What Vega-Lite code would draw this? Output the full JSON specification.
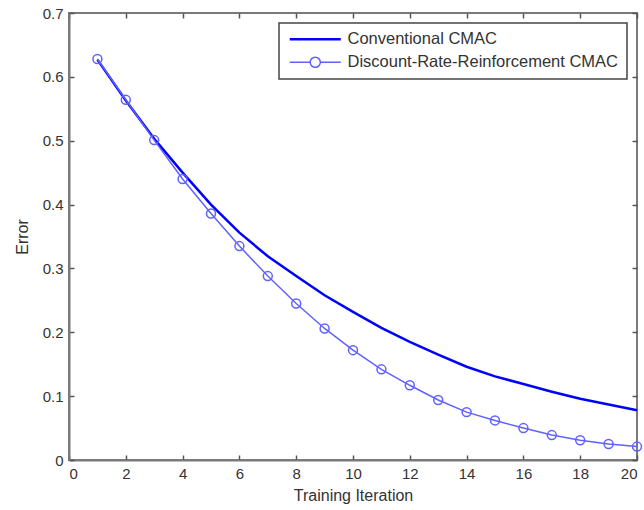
{
  "$schema": "https://vega.github.io/schema/vega-lite/v6.json",
  "width": 568,
  "height": 447,
  "autosize": {"type": "none"},
  "padding": {"left": 69, "top": 13, "right": 7, "bottom": 50},
  "background": "white",
  "config": {
    "view": {"stroke": "#7a7a7a", "strokeWidth": 2},
    "font": "Liberation Sans",
    "axis": {
      "grid": false,
      "domainColor": "#7a7a7a",
      "domainWidth": 2,
      "tickColor": "#555555",
      "tickWidth": 1.5,
      "tickSize": -5,
      "labelFont": "Liberation Sans",
      "labelFontSize": 15,
      "labelColor": "#333333",
      "titleFont": "Liberation Sans",
      "titleFontSize": 16,
      "titleFontWeight": "normal",
      "titleColor": "#333333"
    }
  },
  "data": {
    "values": [
      {"series": "Conventional CMAC", "iteration": 1, "error": 0.627},
      {"series": "Conventional CMAC", "iteration": 2, "error": 0.563},
      {"series": "Conventional CMAC", "iteration": 3, "error": 0.503},
      {"series": "Conventional CMAC", "iteration": 4, "error": 0.450},
      {"series": "Conventional CMAC", "iteration": 5, "error": 0.400},
      {"series": "Conventional CMAC", "iteration": 6, "error": 0.356},
      {"series": "Conventional CMAC", "iteration": 7, "error": 0.319},
      {"series": "Conventional CMAC", "iteration": 8, "error": 0.288},
      {"series": "Conventional CMAC", "iteration": 9, "error": 0.258},
      {"series": "Conventional CMAC", "iteration": 10, "error": 0.232},
      {"series": "Conventional CMAC", "iteration": 11, "error": 0.207},
      {"series": "Conventional CMAC", "iteration": 12, "error": 0.185},
      {"series": "Conventional CMAC", "iteration": 13, "error": 0.165},
      {"series": "Conventional CMAC", "iteration": 14, "error": 0.146},
      {"series": "Conventional CMAC", "iteration": 15, "error": 0.131},
      {"series": "Conventional CMAC", "iteration": 16, "error": 0.119},
      {"series": "Conventional CMAC", "iteration": 17, "error": 0.107},
      {"series": "Conventional CMAC", "iteration": 18, "error": 0.096},
      {"series": "Conventional CMAC", "iteration": 19, "error": 0.087},
      {"series": "Conventional CMAC", "iteration": 20, "error": 0.078},
      {"series": "Discount-Rate-Reinforcement CMAC", "iteration": 1, "error": 0.628},
      {"series": "Discount-Rate-Reinforcement CMAC", "iteration": 2, "error": 0.564},
      {"series": "Discount-Rate-Reinforcement CMAC", "iteration": 3, "error": 0.501},
      {"series": "Discount-Rate-Reinforcement CMAC", "iteration": 4, "error": 0.440},
      {"series": "Discount-Rate-Reinforcement CMAC", "iteration": 5, "error": 0.386},
      {"series": "Discount-Rate-Reinforcement CMAC", "iteration": 6, "error": 0.335},
      {"series": "Discount-Rate-Reinforcement CMAC", "iteration": 7, "error": 0.288},
      {"series": "Discount-Rate-Reinforcement CMAC", "iteration": 8, "error": 0.245},
      {"series": "Discount-Rate-Reinforcement CMAC", "iteration": 9, "error": 0.206},
      {"series": "Discount-Rate-Reinforcement CMAC", "iteration": 10, "error": 0.172},
      {"series": "Discount-Rate-Reinforcement CMAC", "iteration": 11, "error": 0.142},
      {"series": "Discount-Rate-Reinforcement CMAC", "iteration": 12, "error": 0.117},
      {"series": "Discount-Rate-Reinforcement CMAC", "iteration": 13, "error": 0.094},
      {"series": "Discount-Rate-Reinforcement CMAC", "iteration": 14, "error": 0.075},
      {"series": "Discount-Rate-Reinforcement CMAC", "iteration": 15, "error": 0.062},
      {"series": "Discount-Rate-Reinforcement CMAC", "iteration": 16, "error": 0.050},
      {"series": "Discount-Rate-Reinforcement CMAC", "iteration": 17, "error": 0.039},
      {"series": "Discount-Rate-Reinforcement CMAC", "iteration": 18, "error": 0.031},
      {"series": "Discount-Rate-Reinforcement CMAC", "iteration": 19, "error": 0.025},
      {"series": "Discount-Rate-Reinforcement CMAC", "iteration": 20, "error": 0.021}
    ]
  },
  "layer": [
    {
      "transform": [{"filter": "datum.series === 'Conventional CMAC'"}],
      "mark": {"type": "line", "strokeWidth": 2.5},
      "encoding": {
        "x": {
          "field": "iteration", "type": "quantitative",
          "scale": {"domain": [0, 20], "nice": false},
          "axis": {"values": [0, 2, 4, 6, 8, 10, 12, 14, 16, 18, 20], "title": "Training Iteration", "labelPadding": 11, "titlePadding": 6}
        },
        "y": {
          "field": "error", "type": "quantitative",
          "scale": {"domain": [0, 0.7], "nice": false, "zero": true},
          "axis": {"values": [0, 0.1, 0.2, 0.3, 0.4, 0.5, 0.6, 0.7], "format": "~g", "title": "Error", "labelPadding": 11, "titlePadding": 12}
        },
        "color": {
          "field": "series", "type": "nominal",
          "scale": {"domain": ["Conventional CMAC", "Discount-Rate-Reinforcement CMAC"], "range": ["#0000ff", "#6161ff"]},
          "legend": {
            "orient": "none",
            "legendX": 210,
            "legendY": 10,
            "title": null,
            "padding": 8,
            "fillColor": "white",
            "strokeColor": "#444444",
            "labelFont": "Liberation Sans",
            "labelFontSize": 16.5,
            "labelColor": "#333333",
            "labelLimit": 500,
            "labelOffset": 24,
            "symbolOffset": 20,
            "symbolSize": 2601,
            "symbolType": "M-1,0H1",
            "symbolStrokeWidth": 2.5,
            "rowPadding": 6,
            "encode": {
              "legend": {"update": {"strokeWidth": {"value": 1.5}}},
              "symbols": {
                "update": {
                  "shape": {"signal": "datum.value === 'Conventional CMAC' ? 'M-1,0H1' : 'M-1,0H-0.2M0.2,0H1M0.2,0A0.2,0.2,0,1,1,-0.2,0A0.2,0.2,0,1,1,0.2,0'"},
                  "strokeWidth": {"signal": "datum.value === 'Conventional CMAC' ? 2.5 : 1.5"},
                  "fill": {"value": "transparent"}
                }
              }
            }
          }
        }
      }
    },
    {
      "transform": [{"filter": "datum.series !== 'Conventional CMAC'"}],
      "mark": {"type": "line", "strokeWidth": 1.5, "point": {"filled": false, "size": 80, "strokeWidth": 1.5}},
      "encoding": {
        "x": {
          "field": "iteration", "type": "quantitative",
          "axis": {"orient": "top", "values": [0, 2, 4, 6, 8, 10, 12, 14, 16, 18, 20], "labels": false, "domain": false, "title": null}
        },
        "y": {
          "field": "error", "type": "quantitative",
          "axis": {"orient": "right", "values": [0, 0.1, 0.2, 0.3, 0.4, 0.5, 0.6, 0.7], "labels": false, "domain": false, "title": null}
        },
        "color": {"field": "series", "type": "nominal", "legend": null}
      }
    }
  ],
  "resolve": {"axis": {"x": "independent", "y": "independent"}}
}
